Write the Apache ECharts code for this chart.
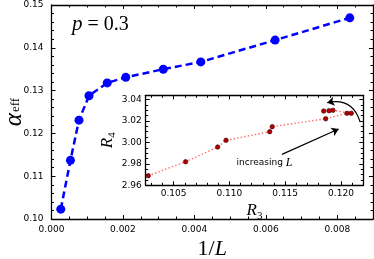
<!DOCTYPE html>
<html>
<head>
<meta charset="utf-8">
<script src="https://cdn.jsdelivr.net/npm/echarts@6/dist/echarts.min.js"></script>
<style>html,body{margin:0;padding:0;background:#fff;}#c{width:374px;height:259px;}</style>
</head>
<body>
<div id="c"></div>
<script>
// Main plot data: alpha_eff vs 1/L
const invL = [0.00026, 0.00053, 0.00077, 0.00105, 0.00156, 0.00208, 0.00313, 0.00418, 0.00626, 0.00835];
const alphaEff = [0.1023, 0.1137, 0.1231, 0.1288, 0.1318, 0.1331, 0.1350, 0.1367, 0.1418, 0.1470];
// Inset data: R4 vs R3
const R3 = [0.10273, 0.10608, 0.10895, 0.10970, 0.11361, 0.11384, 0.11863, 0.12054, 0.12092, 0.11928, 0.11893, 0.11845];
const R4 = [2.9689, 2.9820, 2.9957, 3.0020, 3.0100, 3.0147, 3.0221, 3.0272, 3.0272, 3.0300, 3.0296, 3.0293];
// Annotation anchors (inset data coordinates)
const arrowFrom = [0.11471, 2.9889];
const arrowTo = [0.11979, 3.0125];
const curveFrom = [0.12170, 3.0197];
const curveTo = [0.11877, 3.0371];
const noteAt = [0.11315, 2.9808];
const noteText = 'increasing {i|L}';
const titleText = '{i|p}{n| = 0.3}';

const serif = 'Liberation Serif';
const sans = 'DejaVu Sans';

const chart = echarts.init(document.getElementById('c'), null, {renderer: 'canvas'});

const tickStyle = {color: '#000', width: 1};
function axisCommon(extra) {
  return Object.assign({
    type: 'value',
    nameMoveOverlap: false,
    axisLine: {show: true, onZero: false, lineStyle: {color: '#000', width: 1.3}},
    axisTick: {show: true, inside: true, length: 4, lineStyle: tickStyle},
    splitLine: {show: false},
    axisLabel: {color: '#000', fontFamily: sans, fontSize: 9}
  }, extra);
}
function minor(n) {
  return {show: true, splitNumber: n, length: 2.5, lineStyle: tickStyle};
}

const mainX = {min: 0, max: 0.009, interval: 0.002};
const mainY = {min: 0.10, max: 0.15, interval: 0.01};
const insX = {min: 0.1025, max: 0.122, splitNumber: 4};
const insY = {min: 2.96, max: 3.044, interval: 0.02};

const option = {
  animation: false,
  backgroundColor: '#fff',
  title: {
    text: titleText,
    left: 67, top: 9,
    textStyle: {
      fontWeight: 'normal',
      rich: {
        i: {fontFamily: serif, fontStyle: 'italic', fontWeight: 'normal', fontSize: 21, color: '#000'},
        n: {fontFamily: serif, fontWeight: 'normal', fontSize: 20, color: '#000'}
      }
    }
  },
  grid: [
    {left: 51.5, right: 1, top: 5, bottom: 40, containLabel: false, outerBoundsMode: 'none'},
    {left: 145.7, right: 10.7, top: 95.3, bottom: 73.7, containLabel: false, outerBoundsMode: 'none', show: true, backgroundColor: '#fff', borderWidth: 0, z: 5}
  ],
  xAxis: [
    axisCommon(Object.assign({gridIndex: 0, position: 'bottom',
      minorTick: minor(4),
      axisLabel: {color: '#000', fontFamily: sans, fontSize: 9, margin: 6, showMaxLabel: false,
        formatter: v => v.toFixed(3)},
      name: '{n|1/}{i|L}', nameLocation: 'middle', nameGap: 19,
      nameTextStyle: {rich: {
        n: {fontFamily: serif, fontSize: 22, color: '#000'},
        i: {fontFamily: serif, fontStyle: 'italic', fontSize: 22, color: '#000'}
      }}
    }, mainX)),
    axisCommon(Object.assign({gridIndex: 0, position: 'top',
      minorTick: minor(4),
      axisLabel: {show: false}}, mainX)),
    axisCommon(Object.assign({gridIndex: 1, position: 'bottom', z: 6,
      minorTick: minor(5),
      axisLabel: {color: '#000', fontFamily: sans, fontSize: 9, margin: 4, showMinLabel: false, showMaxLabel: false,
        formatter: v => v.toFixed(3)},
      name: '{i|R}{s|3}', nameLocation: 'middle', nameGap: 17,
      nameTextStyle: {rich: {
        i: {fontFamily: serif, fontStyle: 'italic', fontSize: 17, color: '#000', lineHeight: 17, verticalAlign: 'top'},
        s: {fontFamily: serif, fontSize: 11, color: '#000', lineHeight: 11, padding: [8, 0, 0, 0], verticalAlign: 'top'}
      }}
    }, insX)),
    axisCommon(Object.assign({gridIndex: 1, position: 'top', z: 6,
      minorTick: minor(5),
      axisLabel: {show: false}}, insX))
  ],
  yAxis: [
    axisCommon(Object.assign({gridIndex: 0, position: 'left',
      minorTick: minor(5),
      axisLabel: {color: '#000', fontFamily: sans, fontSize: 9, margin: 8, formatter: v => v.toFixed(2)},
      name: '{a|α}{s|eff}', nameLocation: 'middle', nameGap: 30, nameRotate: 90,
      nameTextStyle: {rich: {
        a: {fontFamily: serif, fontStyle: 'italic', fontSize: 25, color: '#000', lineHeight: 20, verticalAlign: 'top'},
        s: {fontFamily: serif, fontSize: 13, color: '#000', lineHeight: 13, padding: [8, 0, 0, 1], verticalAlign: 'top'}
      }}
    }, mainY)),
    axisCommon(Object.assign({gridIndex: 0, position: 'right',
      minorTick: minor(5),
      axisLabel: {show: false}}, mainY)),
    axisCommon(Object.assign({gridIndex: 1, position: 'left', z: 6,
      minorTick: minor(4),
      axisLabel: {color: '#000', fontFamily: sans, fontSize: 9, margin: 4, showMaxLabel: false, formatter: v => v.toFixed(2)},
      name: '{i|R}{s|4}', nameLocation: 'middle', nameGap: 30, nameRotate: 90,
      nameTextStyle: {rich: {
        i: {fontFamily: serif, fontStyle: 'italic', fontSize: 17, color: '#000', lineHeight: 17, verticalAlign: 'top'},
        s: {fontFamily: serif, fontSize: 11, color: '#000', lineHeight: 11, padding: [8, 0, 0, 0], verticalAlign: 'top'}
      }}
    }, insY)),
    axisCommon(Object.assign({gridIndex: 1, position: 'right', z: 6,
      minorTick: minor(4),
      axisLabel: {show: false}}, insY))
  ],
  series: [
    {
      type: 'line', xAxisIndex: 0, yAxisIndex: 0,
      data: invL.map((x, i) => [x, alphaEff[i]]),
      symbol: 'circle', symbolSize: 9,
      itemStyle: {color: '#0000ff'},
      lineStyle: {color: '#0000ff', width: 2.5, type: [7, 4]},
      z: 3
    },
    {
      type: 'line', xAxisIndex: 2, yAxisIndex: 2,
      data: R3.map((x, i) => [x, R4[i]]),
      symbol: 'circle', symbolSize: 4.5,
      itemStyle: {color: '#b00000', borderColor: '#400000', borderWidth: 0.6},
      lineStyle: {color: '#ff4d4d', width: 1.4, type: [1.4, 2.2], opacity: 0.85},
      z: 10,
      markLine: {
        silent: true,
        symbol: ['none', 'arrow'],
        symbolSize: 7,
        label: {show: false},
        lineStyle: {color: '#000', width: 1.2, type: 'solid', opacity: 1},
        data: [
          [{coord: arrowFrom}, {coord: arrowTo}]
        ]
      },
      markPoint: {
        silent: true,
        symbol: 'circle', symbolSize: 0,
        data: [{coord: noteAt}],
        label: {
          show: true, position: 'inside', formatter: noteText, color: '#000',
          fontFamily: sans, fontSize: 9,
          rich: {i: {fontFamily: serif, fontStyle: 'italic', fontSize: 12, color: '#000'}}
        }
      }
    },
    {
      type: 'lines', coordinateSystem: 'cartesian2d', xAxisIndex: 2, yAxisIndex: 2,
      silent: true, z: 11,
      symbol: ['none', 'arrow'], symbolSize: 7,
      lineStyle: {color: '#000', width: 1.2, curveness: -0.45, opacity: 1},
      data: [{coords: [curveFrom, curveTo]}]
    }
  ]
};
chart.setOption(option);
</script>
</body>
</html>
